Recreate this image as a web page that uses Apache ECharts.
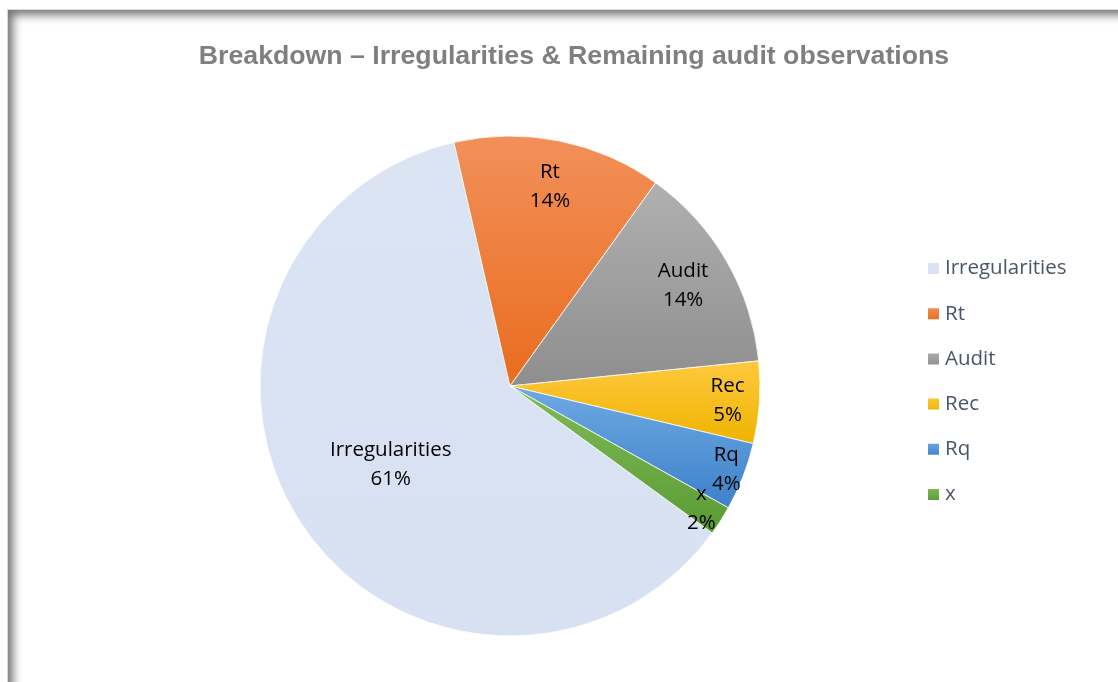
<!DOCTYPE html>
<html>
<head>
<meta charset="utf-8">
<script src="https://cdn.jsdelivr.net/npm/echarts@6/dist/echarts.min.js"></script>
<style>
  html, body { margin: 0; padding: 0; background: #ffffff; overflow: hidden; }
  #frame {
    position: absolute; left: 7px; top: 9px; width: 1130px; height: 700px;
    border-left: 1px solid #d3d9e1; border-top: 1px solid #d3d9e1;
    box-shadow: inset 5px 5px 10px rgba(0, 0, 0, 0.55);
    background: #ffffff;
  }
  #chart { position: absolute; left: 0; top: 0; width: 1118px; height: 682px; z-index: 2; }
</style>
</head>
<body>
<div id="frame"></div>
<div id="chart"></div>
<script>
// Share of each observation type (percent of all audit observations)
const categories = ['Irregularities', 'Rt', 'Audit', 'Rec', 'Rq', 'x'];
const shares = [61.4, 13.5, 13.5, 5.3, 4.4, 1.9];

// Slice fills: [top, bottom] of a vertical gradient
const fills = [
  ['#dbe4f3', '#d8e1f2'],
  ['#f2905a', '#ea6c1e'],
  ['#b0b0b0', '#8e8e8e'],
  ['#ffc93f', '#efb300'],
  ['#6ea9e2', '#3d81cb'],
  ['#80bc59', '#5a9a33']
];

// Distance of each data label from the pie centre, in px
const labelDistance = [140, 200, 197, 215, 229, 224];

const gradient = (pair) => new echarts.graphic.LinearGradient(0, 0, 0, 1, [
  { offset: 0, color: pair[0] },
  { offset: 1, color: pair[1] }
]);

const center = [510, 386];
const outer = 250;
const startAngle = -36;
const labelFont = { fontFamily: '"Open Sans", sans-serif', fontSize: 20.5, color: '#000000', lineHeight: 29 };

const slices = categories.map((name, i) => ({
  name,
  value: shares[i],
  itemStyle: { color: gradient(fills[i]) }
}));

// Transparent ring carrying only one category's label; an inside label sits
// midway across the ring, so the inner radius sets how far out it lands.
const labelRing = (idx) => ({
  type: 'pie',
  name: 'label-' + categories[idx],
  center,
  radius: [2 * labelDistance[idx] - outer, outer],
  startAngle,
  clockwise: true,
  percentPrecision: 0,
  avoidLabelOverlap: false,
  silent: true,
  legendHoverLink: false,
  animation: false,
  itemStyle: { color: 'rgba(0,0,0,0)', borderWidth: 0 },
  emphasis: { disabled: true },
  tooltip: { show: false },
  labelLine: { show: false },
  labelLayout: { hideOverlap: false },
  label: Object.assign({ position: 'inside', formatter: '{b}\n{d}%' }, labelFont),
  data: categories.map((name, i) => ({ name, value: shares[i], label: { show: i === idx } }))
});

const chart = echarts.init(document.getElementById('chart'), null, { renderer: 'canvas' });
chart.setOption({
  backgroundColor: 'transparent',
  animation: false,
  title: {
    text: 'Breakdown \u2013 Irregularities & Remaining audit observations',
    left: 569,
    top: 38,
    textAlign: 'center',
    textStyle: { fontFamily: '"Liberation Sans", Arial, sans-serif', fontWeight: 'bold', fontSize: 26.7, color: '#7f7f7f' }
  },
  legend: {
    orient: 'vertical',
    left: 926,
    top: 258,
    padding: 0,
    icon: 'rect',
    itemWidth: 13,
    itemHeight: 13,
    itemGap: 24.2,
    data: categories,
    textStyle: { fontFamily: '"Open Sans", sans-serif', fontSize: 20.5, color: '#4a5567', lineHeight: 20 }
  },
  series: [
    {
      name: 'Observations',
      type: 'pie',
      center,
      radius: [0, outer],
      startAngle,
      clockwise: true,
      percentPrecision: 0,
      animation: false,
      itemStyle: { borderColor: '#ffffff', borderWidth: 0.8 },
      label: { show: false },
      labelLine: { show: false },
      data: slices
    }
  ].concat(categories.map((_, i) => labelRing(i)))
});
</script>
</body>
</html>
